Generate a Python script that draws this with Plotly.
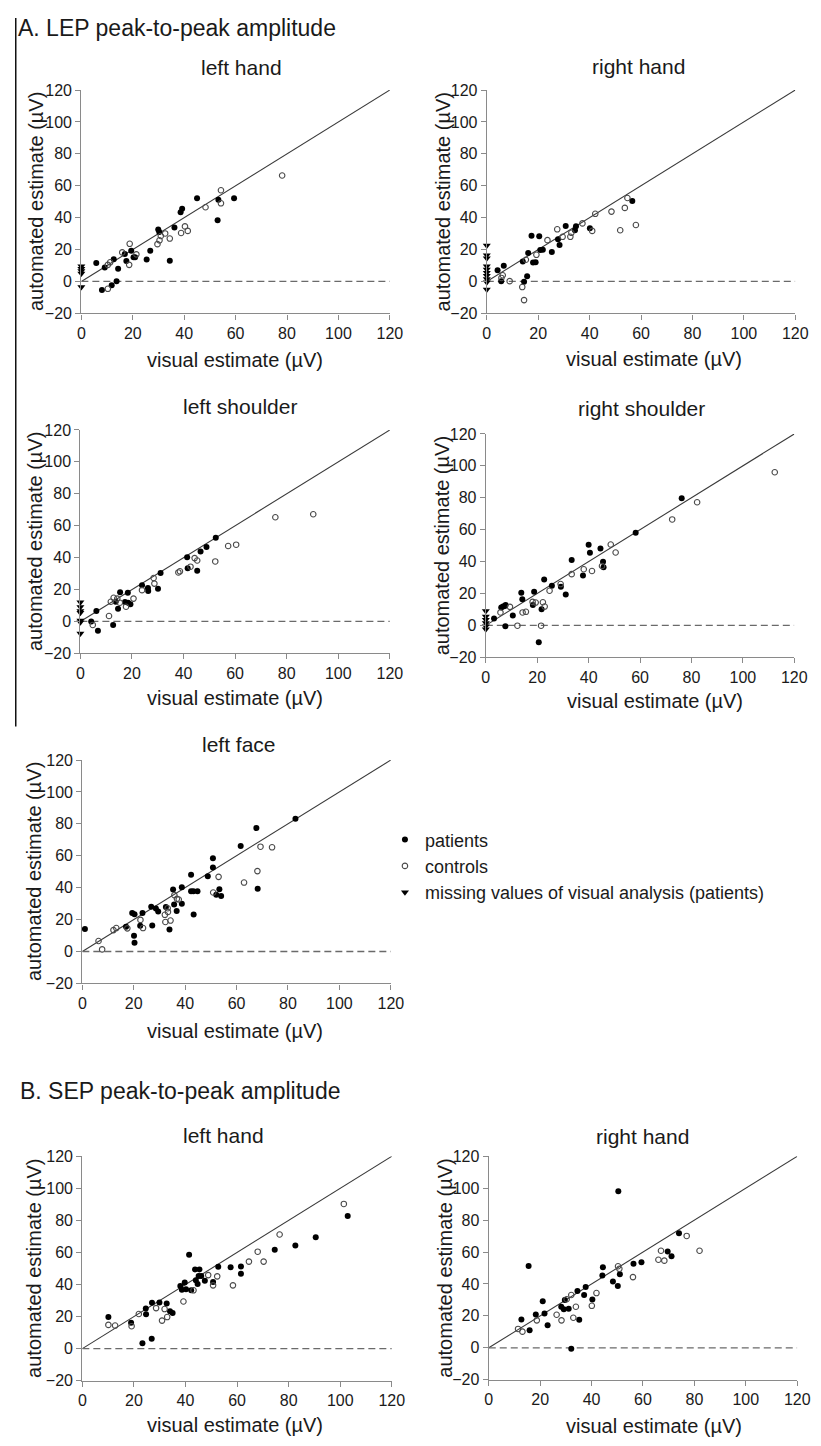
import plotly.graph_objects as go

W, H = 821, 1446

# ---------------- data (visual estimate x, automated estimate y) ----------------
# A. LEP left hand
lh_pat_x = [5.8, 8.0, 9.1, 11.8, 12.6, 13.7, 14.3, 16.9, 17.5, 19.4, 20.3, 20.9, 25.4, 26.8, 29.9, 30.3, 34.4, 36.2, 38.6, 39.2, 45.0, 53.0, 53.3, 59.4]
lh_pat_y = [11.5, -5.4, 8.8, -2.3, 13.9, 0.2, 8.0, 17.2, 12.9, 19.2, 15.2, 15.2, 13.8, 19.3, 32.5, 31.0, 13.0, 33.9, 43.4, 45.5, 52.2, 38.4, 51.2, 52.2]
lh_con_x = [10.3, 10.3, 11.2, 15.9, 18.8, 18.6, 21.4, 29.6, 30.4, 30.9, 32.6, 34.4, 38.8, 40.3, 41.4, 48.3, 54.3, 54.3, 78.1]
lh_con_y = [-4.6, 10.4, 12.0, 18.2, 23.6, 10.4, 17.0, 23.4, 25.8, 28.5, 30.1, 26.9, 30.4, 34.5, 31.7, 46.5, 57.2, 49.0, 66.4]
lh_miss_y = [9.5, 8.0, 6.5, 5.0, -3.5]

# A. LEP right hand
rh_pat_x = [4.2, 5.6, 6.6, 14.0, 14.5, 15.7, 16.1, 17.4, 18.0, 19.0, 20.4, 20.8, 21.8, 25.3, 27.7, 28.3, 30.7, 34.3, 34.7, 40.1, 56.6]
rh_pat_y = [7.0, 0.2, 9.9, 12.5, -0.2, 3.3, 17.9, 28.6, 11.9, 12.1, 28.4, 19.7, 19.9, 18.5, 26.5, 22.8, 34.8, 32.1, 34.6, 33.3, 50.4]
rh_con_x = [5.7, 6.2, 8.9, 13.8, 14.5, 15.2, 19.3, 23.6, 27.4, 29.5, 32.5, 32.9, 37.2, 41.0, 42.2, 48.5, 51.9, 53.7, 54.7, 58.0]
rh_con_y = [2.2, 3.9, 0.2, -3.5, -11.7, 13.6, 16.7, 25.9, 32.7, 28.0, 28.0, 30.5, 36.4, 31.7, 42.4, 43.8, 32.1, 46.1, 52.3, 35.4]
rh_miss_y = [22.5, 16.5, 14.5, 9.5, 7.5, 5.5, 3.5, 1.5, -0.5, -5.0]

# A. LEP left shoulder
ls_pat_x = [4.2, 6.2, 6.8, 12.7, 13.7, 14.6, 15.4, 17.3, 18.4, 18.5, 19.4, 23.9, 26.2, 26.3, 30.1, 31.1, 41.4, 41.6, 45.3, 46.6, 48.9, 52.5]
ls_pat_y = [-0.1, 6.5, -5.9, -2.2, 12.3, 7.9, 18.3, 12.1, 17.9, 11.7, 10.7, 22.6, 21.0, 19.0, 20.4, 30.3, 40.3, 33.3, 31.8, 43.8, 46.7, 52.5]
ls_con_x = [4.8, 11.1, 11.8, 12.9, 14.3, 15.3, 17.7, 20.6, 23.9, 28.4, 28.7, 38.0, 38.6, 42.7, 44.3, 45.3, 52.3, 57.3, 60.4, 75.6, 90.3]
ls_con_y = [-2.2, 3.4, 12.3, 14.8, 14.3, 11.7, 9.2, 14.3, 19.6, 27.2, 23.7, 30.7, 31.4, 34.3, 39.7, 38.2, 37.6, 47.3, 48.1, 65.3, 67.2]
ls_miss_y = [12.0, 9.0, 6.5, 5.5, 0.5, -0.5, -7.5]

# A. LEP right shoulder
rs_pat_x = [3.2, 6.0, 6.7, 7.4, 7.7, 7.6, 10.5, 13.8, 14.2, 18.3, 18.8, 20.6, 21.7, 22.7, 25.7, 29.2, 31.1, 33.4, 37.8, 40.0, 40.5, 44.6, 45.6, 45.8, 58.3, 76.2]
rs_pat_y = [4.3, 11.2, 11.8, 12.2, 12.8, -0.6, 6.2, 20.5, 16.3, 12.8, 21.1, -10.6, 10.1, 28.8, 24.8, 24.2, 19.4, 41.0, 31.2, 50.5, 45.5, 48.2, 39.9, 36.4, 58.1, 79.7]
rs_con_x = [5.7, 9.4, 12.3, 14.3, 15.6, 18.2, 19.4, 21.5, 22.2, 22.9, 24.8, 29.1, 33.4, 38.1, 41.3, 45.2, 48.6, 50.5, 72.5, 82.2, 112.4]
rs_con_y = [8.1, 11.6, -0.2, 8.1, 8.5, 14.7, 14.3, -0.2, 14.5, 11.8, 21.7, 25.9, 32.1, 35.2, 34.1, 37.2, 50.7, 45.7, 66.4, 77.2, 96.0]
rs_miss_y = [9.0, 5.5, 3.5, 1.5, -0.5, -2.5]

# A. LEP left face
lf_pat_x = [1.0, 17.0, 19.4, 20.3, 20.1, 20.3, 22.5, 23.4, 26.8, 27.2, 28.6, 29.5, 32.5, 33.9, 35.3, 35.7, 36.7, 38.7, 38.7, 42.3, 42.3, 43.2, 43.3, 44.8, 48.8, 50.8, 50.8, 52.1, 53.3, 54.0, 61.6, 67.7, 68.2, 82.9]
lf_pat_y = [14.1, 15.5, 24.2, 23.4, 9.9, 5.4, 16.1, 24.2, 28.1, 16.3, 26.9, 25.0, 27.9, 13.8, 38.8, 29.5, 25.4, 40.3, 29.9, 48.1, 37.8, 37.8, 23.2, 37.8, 47.1, 58.4, 52.6, 35.5, 39.0, 34.8, 66.1, 77.4, 39.3, 83.2]
lf_con_x = [6.3, 7.7, 12.1, 13.2, 17.5, 22.6, 23.6, 32.1, 32.3, 33.2, 33.3, 34.3, 35.8, 36.8, 37.5, 50.9, 53.0, 62.9, 68.1, 69.3, 73.8]
lf_con_y = [6.6, 1.3, 13.4, 14.7, 14.5, 19.8, 14.7, 23.0, 18.5, 27.1, 24.8, 19.4, 35.3, 33.0, 32.6, 37.0, 46.8, 43.2, 50.4, 65.7, 65.3]

# B. SEP left hand
sl_pat_x = [10.1, 18.9, 23.3, 24.6, 24.7, 26.9, 27.0, 29.9, 32.7, 34.0, 35.0, 38.0, 38.6, 39.7, 40.2, 41.4, 42.2, 43.7, 44.0, 44.7, 45.4, 45.1, 46.1, 47.5, 50.7, 52.7, 57.5, 61.5, 61.5, 74.6, 82.6, 90.5, 102.9]
sl_pat_y = [19.7, 16.2, 3.3, 25.1, 21.4, 6.2, 28.6, 28.8, 28.2, 23.4, 22.2, 39.1, 36.8, 41.2, 37.0, 58.6, 36.4, 49.4, 42.6, 40.3, 49.4, 45.3, 45.3, 42.4, 41.6, 51.1, 50.8, 51.3, 46.7, 61.7, 64.4, 69.5, 82.7]
sl_con_x = [10.1, 12.7, 19.1, 21.9, 28.6, 30.9, 31.9, 32.9, 39.2, 43.1, 48.8, 50.7, 52.3, 58.4, 64.6, 68.0, 70.3, 76.5, 101.4]
sl_con_y = [14.8, 14.4, 14.0, 21.6, 25.3, 17.5, 24.7, 19.7, 29.4, 36.4, 45.9, 39.5, 45.1, 39.5, 54.3, 60.5, 54.3, 71.2, 90.3]

# B. SEP right hand
sr_pat_x = [12.7, 15.5, 15.9, 18.3, 21.0, 21.7, 22.9, 28.2, 29.2, 29.6, 31.1, 32.1, 34.5, 35.2, 37.1, 37.7, 40.3, 44.2, 44.4, 48.3, 50.2, 50.4, 51.0, 56.3, 59.4, 69.6, 71.1, 74.0]
sr_pat_y = [17.8, 51.3, 11.0, 20.9, 29.2, 21.5, 14.1, 25.7, 24.2, 30.0, 24.4, -0.6, 35.6, 17.6, 33.1, 38.1, 30.2, 45.3, 50.5, 41.6, 38.7, 98.1, 46.1, 52.6, 53.6, 60.4, 57.3, 71.8]
sr_con_x = [11.4, 13.1, 18.7, 26.4, 28.3, 30.3, 32.1, 32.9, 33.9, 40.1, 41.9, 50.3, 50.8, 56.1, 66.0, 67.0, 68.3, 77.0, 82.0]
sr_con_y = [11.8, 10.1, 17.2, 20.7, 17.2, 30.4, 33.1, 18.8, 25.7, 26.3, 34.3, 51.1, 49.5, 44.3, 55.2, 60.8, 54.6, 70.1, 60.8]

x_ticks = [0, 20, 40, 60, 80, 100, 120]
y_ticks = [-20, 0, 20, 40, 60, 80, 100, 120]
x_range = [0, 120]
y_range = [-20, 120]
identity = [0, 120]
zero_x = [0, 120]
zero_y = [0, 0]

panel_titles = ["left hand", "right hand", "left shoulder", "right shoulder", "left face", "left hand", "right hand"]
x_title = "visual estimate (\u00b5V)"
y_title = "automated estimate (\u00b5V)"
legend_names = ["patients", "controls", "missing values of visual analysis (patients)"]

panels = [
    (lh_pat_x, lh_pat_y, lh_con_x, lh_con_y, lh_miss_y),
    (rh_pat_x, rh_pat_y, rh_con_x, rh_con_y, rh_miss_y),
    (ls_pat_x, ls_pat_y, ls_con_x, ls_con_y, ls_miss_y),
    (rs_pat_x, rs_pat_y, rs_con_x, rs_con_y, rs_miss_y),
    (lf_pat_x, lf_pat_y, lf_con_x, lf_con_y, []),
    (sl_pat_x, sl_pat_y, sl_con_x, sl_con_y, []),
    (sr_pat_x, sr_pat_y, sr_con_x, sr_con_y, []),
]

# ---------------- layout geometry (pixels) ----------------
# plot area boxes: (left, right, top, bottom)
boxes = [
    (79, 394, 83, 309),
    (493, 808, 83, 309),
    (78, 394, 427, 653),
    (492, 807, 431, 657),
    (80, 395, 761, 987),
    (80, 396, 1162, 1389),
    (495, 810, 1162, 1388),
]
# subplot title centers
title_pos = [(243, 60), (648, 59), (241, 403), (651, 405), (240, 745), (224, 1141), (652, 1142)]
# x axis title centers
xt_pos = [(236, 356), (664, 355), (236, 698), (665, 701), (236, 1035), (236, 1434), (664, 1435)]
# y axis title centers (x)
yt_x = [32, 448, 31, 447, 30, 30, 450]

FONT = "Liberation Sans, Arial, Helvetica, sans-serif"
AXC = "#8a8a8a"
TXT = "#1a1a1a"

def px(x):
    return x / W

def py(y):
    return 1 - y / H

fig = go.Figure()
annotations = []
layout_axes = {}

for i, (pxs, pys, cxs, cys, mys) in enumerate(panels):
    n = "" if i == 0 else str(i + 1)
    xa, ya = "x" + n, "y" + n
    l, r, t, b = boxes[i]
    layout_axes["xaxis" + n] = dict(
        domain=[px(l), px(r)], anchor=ya, range=x_range, tickvals=x_ticks,
        showgrid=False, zeroline=False, showline=True, linecolor=AXC, linewidth=1.3,
        ticks="outside", ticklen=5, tickwidth=1.3, tickcolor=AXC,
        tickfont=dict(family=FONT, size=16, color=TXT), fixedrange=True,
    )
    layout_axes["yaxis" + n] = dict(
        domain=[py(b), py(t)], anchor=xa, range=y_range, tickvals=y_ticks,
        showgrid=False, zeroline=False, showline=True, linecolor=AXC, linewidth=1.3,
        ticks="outside", ticklen=5, tickwidth=1.3, tickcolor=AXC,
        tickfont=dict(family=FONT, size=16, color=TXT), fixedrange=True,
    )
    first = i == 0
    fig.add_trace(go.Scatter(x=identity, y=identity, mode="lines", xaxis=xa, yaxis=ya,
                             line=dict(color="#3a3a3a", width=1.1), showlegend=False, hoverinfo="skip"))
    fig.add_trace(go.Scatter(x=zero_x, y=zero_y, mode="lines", xaxis=xa, yaxis=ya,
                             line=dict(color="#6a6a6a", width=1.3, dash="7px,4px"), showlegend=False, hoverinfo="skip"))
    fig.add_trace(go.Scatter(x=pxs, y=pys, mode="markers", xaxis=xa, yaxis=ya, name=legend_names[0],
                             legendgroup="p", showlegend=first, cliponaxis=False, legendrank=1,
                             marker=dict(symbol="circle", size=6, color="#000000", line=dict(width=0))))
    fig.add_trace(go.Scatter(x=cxs, y=cys, mode="markers", xaxis=xa, yaxis=ya, name=legend_names[1],
                             legendgroup="c", showlegend=first, cliponaxis=False, legendrank=2,
                             marker=dict(symbol="circle-open", size=5.5, color="#4a4a4a", line=dict(width=1.1))))
    if mys or first:
        fig.add_trace(go.Scatter(x=[0] * len(mys), y=mys, mode="markers", xaxis=xa, yaxis=ya, name=legend_names[2],
                                 legendgroup="m", showlegend=first, cliponaxis=False, legendrank=3,
                                 marker=dict(symbol="triangle-down", size=7, color="#000000", line=dict(width=0))))
    tx, ty = title_pos[i]
    annotations.append(dict(text=panel_titles[i], x=px(tx), y=py(ty), xref="paper", yref="paper",
                            xanchor="center", yanchor="middle", showarrow=False,
                            font=dict(family=FONT, size=21, color=TXT)))
    xx, xy = xt_pos[i]
    annotations.append(dict(text=x_title, x=px(xx), y=py(xy), xref="paper", yref="paper",
                            xanchor="center", yanchor="middle", showarrow=False,
                            font=dict(family=FONT, size=20, color=TXT)))
    annotations.append(dict(text=y_title, x=px(yt_x[i]), y=py((t + b) / 2), xref="paper", yref="paper",
                            xanchor="center", yanchor="middle", showarrow=False, textangle=-90,
                            font=dict(family=FONT, size=20, color=TXT)))

annotations.append(dict(text="A. LEP peak-to-peak amplitude", x=px(12), y=py(20), xref="paper", yref="paper",
                        xanchor="left", yanchor="middle", showarrow=False,
                        font=dict(family=FONT, size=23, color=TXT)))
annotations.append(dict(text="B. SEP peak-to-peak amplitude", x=px(14), y=py(1096), xref="paper", yref="paper",
                        xanchor="left", yanchor="middle", showarrow=False,
                        font=dict(family=FONT, size=23, color=TXT)))

fig.update_layout(
    width=W, height=H, margin=dict(l=0, r=0, t=0, b=0),
    paper_bgcolor="white", plot_bgcolor="white",
    annotations=annotations,
    shapes=[dict(type="line", xref="paper", yref="paper", x0=px(12), x1=px(12), y0=py(10), y1=py(727),
                 line=dict(color="#111111", width=1.5))],
    legend=dict(x=px(389), y=py(823), xanchor="left", yanchor="top", bgcolor="rgba(0,0,0,0)",
                font=dict(family=FONT, size=18, color=TXT), itemsizing="trace", tracegroupgap=0,
                traceorder="normal"),
    **layout_axes,
)

fig.write_html("out.html", config={"displayModeBar": False},
               post_script="document.body.style.margin='0';document.body.style.overflow='hidden';")
